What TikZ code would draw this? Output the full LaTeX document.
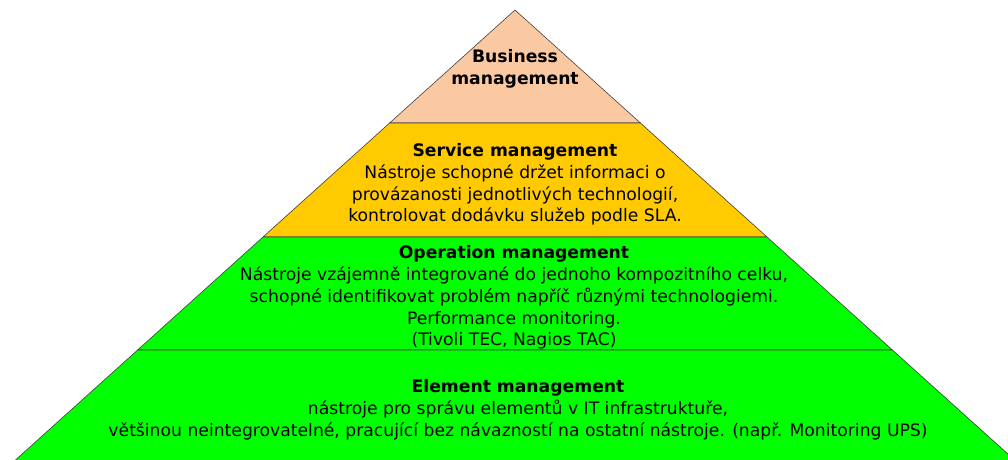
\documentclass[tikz,border=0pt]{standalone}
\usepackage{fontspec}
\setmainfont{DejaVu Sans}
\usepackage{tikz}
\usetikzlibrary{calc,positioning}

\definecolor{peach}{RGB}{251,201,161}
\definecolor{gold}{RGB}{255,202,0}
\definecolor{lime}{RGB}{0,255,0}

\tikzset{
  layer/.style={draw=black!75,line width=0.6pt,line join=miter},
  label/.style={align=center,font=\fontsize{17.2}{21.8}\selectfont,inner sep=0pt},
}

\begin{document}
\begin{tikzpicture}[x=1pt,y=-1pt]
\useasboundingbox (0,0) rectangle (1008,459);
\clip (0,0) rectangle (1008,459);
% corners of the pyramid
\coordinate (top) at (515,10);
\coordinate (l1) at (389.6,123);
\coordinate (r1) at (640.4,123);
\coordinate (l2) at (263,237);
\coordinate (r2) at (767,237);
\coordinate (l3) at (137.6,350);
\coordinate (r3) at (892.4,350);
\coordinate (l4) at (9.9,465);
\coordinate (r4) at (1020.1,465);

\draw[layer,fill=peach] (top) -- (r1) -- (l1) -- cycle;
\draw[layer,fill=gold] (l1) -- (r1) -- (r2) -- (l2) -- cycle;
\draw[layer,fill=lime] (l2) -- (r2) -- (r3) -- (l3) -- cycle;
\draw[layer,fill=lime] (l3) -- (r3) -- (r4) -- (l4) -- cycle;

\node (business) at (515,69) [label] {\textbf{Business}\\\textbf{management}};
\node (service) at (515,184.5) [label] {\textbf{Service management}\\
  Nástroje schopné držet informaci o\\
  provázanosti jednotlivých technologií,\\
  kontrolovat dodávku služeb podle SLA.};
\node (operation) at (514,297.5) [label] {\textbf{Operation management}\\
  Nástroje vzájemně integrované do jednoho kompozitního celku,\\
  schopné identifikovat problém napříč různými technologiemi.\\
  Performance monitoring.\\
  (Tivoli TEC, Nagios TAC)};
\node (element) at (518,410) [label] {\textbf{Element management}\\
  nástroje pro správu elementů v IT infrastruktuře,\\
  většinou neintegrovatelné, pracující bez návazností na ostatní nástroje. (např. Monitoring UPS)};
\end{tikzpicture}
\end{document}
